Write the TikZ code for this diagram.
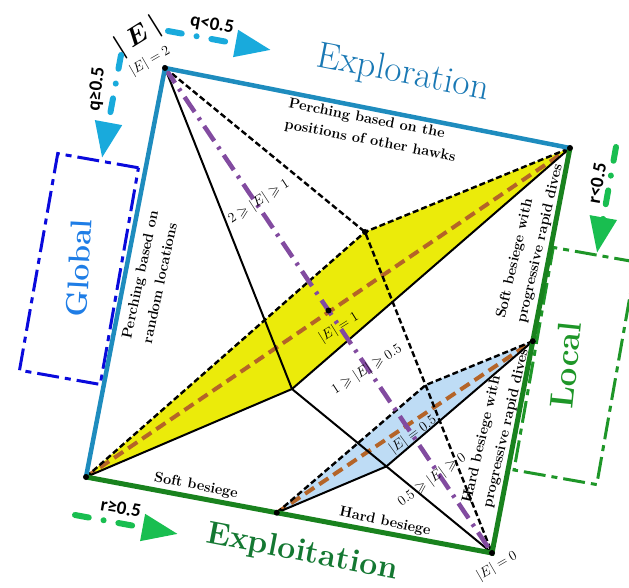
\RequirePackage{fix-cm}
\documentclass[tikz,border=0pt]{standalone}
\usepackage{amsmath}
\usepackage{amssymb}
\usepackage{fontspec}
\newfontfamily\paramfont{Carlito}
\usepackage{tikz}
\usetikzlibrary{arrows.meta, calc}
\definecolor{explblue}{RGB}{30,140,190}
\definecolor{explortext}{RGB}{25,120,180}
\definecolor{globaltext}{RGB}{30,125,230}
\definecolor{boxblue}{RGB}{10,10,220}
\definecolor{exploitgreen}{RGB}{25,130,30}
\definecolor{exploittext}{RGB}{20,120,50}
\definecolor{boxgreen}{RGB}{30,150,40}
\definecolor{arrowcyan}{RGB}{25,170,220}
\definecolor{arrowgreen}{RGB}{25,190,80}
\definecolor{fillyellow}{RGB}{235,235,10}
\definecolor{fillblue}{RGB}{190,220,245}
\definecolor{diagbrown}{RGB}{180,100,40}
\definecolor{axispurple}{RGB}{130,75,160}
\tikzset{
  exploredge/.style={line width=4.5pt, draw=explblue},
  exploitedge/.style={line width=5pt, draw=exploitgreen},
  hiddenline/.style={line width=2.4pt, dash pattern=on 6pt off 3pt},
  frontline/.style={line width=2pt},
  diagline/.style={line width=4pt, draw=diagbrown, dash pattern=on 11pt off 6pt},
  energyaxis/.style={line width=4.5pt, draw=axispurple,
    dash pattern=on 18pt off 7pt on 3pt off 7pt},
  modebox/.style={rectangle, line width=3pt, rotate=-10,
    dash pattern=on 22pt off 6pt on 6pt off 6pt},
  switcharrow/.style={line width=6pt, line cap=round,
    dash pattern=on 14pt off 15pt on 0.1pt off 15pt,
    -{Triangle[length=36pt, width=26pt]}},
  vertex/.style={circle, fill=black, inner sep=0pt, minimum size=6pt},
  phaselabel/.style={font=\bfseries\fontsize{14.5}{21}\selectfont, align=left, inner sep=1pt},
  levellabel/.style={font=\fontsize{14}{16}\selectfont, inner sep=1pt},
  paramlabel/.style={font=\paramfont\bfseries\fontsize{19}{20}\selectfont, inner sep=1pt}
}
\begin{document}
\begin{tikzpicture}[x=1pt, y=-1pt]
  \useasboundingbox (0,0) rectangle (629,588);
  \clip (0,0) rectangle (629,588);

  % corners of the square and the inner points
  \coordinate (T) at (165,68);
  \coordinate (R) at (570,148);
  \coordinate (L) at (86,477);
  \coordinate (B) at (492,553);
  \coordinate (C) at ($(T)!0.5!(B)$);
  \coordinate (M1) at (365,232);
  \coordinate (M2) at ($(C)!-1!(M1)$);
  \coordinate (P) at ($(L)!0.47!(B)$);
  \coordinate (Q) at ($(R)!0.477!(B)$);
  \coordinate (N1) at ($(M1)!0.477!(B)$);
  \coordinate (N2) at ($(M2)!0.472!(B)$);

  % global / local boxes
  \node[modebox, draw=boxblue, minimum width=82pt, minimum height=220pt] (globalbox) at (79,269) {};
  \node[modebox, draw=boxgreen, minimum width=84pt, minimum height=226pt] (localbox) at (575,366) {};
  \node[font=\bfseries\fontsize{30}{32}\selectfont, text=globaltext, rotate=87] (globaltag) at (79,268) {Global};
  \node[font=\bfseries\fontsize{33}{36}\selectfont, text=boxgreen, rotate=84] (localtag) at (566,365) {Local};

  % planes
  \fill[fillyellow] (L) -- (M1) -- (R) -- (M2) -- cycle;
  \fill[fillblue] (P) -- (N1) -- (Q) -- (N2) -- cycle;
  \draw[diagline] (L) -- (R);
  \draw[diagline] (P) -- (Q);
  \draw[hiddenline] (L) -- (M1) -- (R);
  \draw[hiddenline] (P) -- (N1) -- (Q);
  \draw[hiddenline] (T) -- (M1) -- (B);
  \draw[frontline] (L) -- (M2) -- (R);
  \draw[frontline] (P) -- (N2) -- (Q);
  \draw[frontline] (T) -- (M2) -- (B);
  \draw[energyaxis] (T) -- (B);
  \draw[exploredge] (L) -- (T) -- (R);
  \draw[exploitedge] (L) -- (B) -- (R);
  \foreach \pt in {T,R,L,B,M1,Q,C,P}
    \node[vertex] (dot\pt) at (\pt) {};

  % phase titles
  \node[font=\fontsize{37}{40}\selectfont, text=explortext, rotate=-11] (exploration) at (403,74) {Exploration};
  \node[font=\bfseries\fontsize{32}{36}\selectfont, text=exploittext, rotate=-11] (exploitation) at (302,553) {Exploitation};
  \node[font=\boldmath\fontsize{26}{28}\selectfont, rotate=32] (energy) at (138,37) {$|\,E\,|$};

  % switching arrows
  \coordinate (qlowA) at (168,31);
  \coordinate (qlowB) at (271,50);
  \coordinate (qhighA) at (121,55);
  \coordinate (qhighB) at (102,158);
  \coordinate (rhighA) at (75,515);
  \coordinate (rhighB) at (178,534);
  \coordinate (rlowA) at (616,147);
  \coordinate (rlowB) at (597,253);
  \draw[switcharrow, color=arrowcyan] (qlowA) -- (qlowB);
  \draw[switcharrow, color=arrowcyan] (qhighA) -- (qhighB);
  \draw[switcharrow, color=arrowgreen] (rhighA) -- (rhighB);
  \draw[switcharrow, color=arrowgreen] (rlowA) -- (rlowB);
  \node[paramlabel, rotate=-10] (qlow) at (212,25) {q<0.5};
  \node[paramlabel, rotate=84] (qhigh) at (97,89) {q≥0.5};
  \node[paramlabel, rotate=-10] (rhigh) at (121,508) {r≥0.5};
  \node[paramlabel, rotate=80] (rlow) at (597,183) {r<0.5};

  % strategy labels
  \node[phaselabel, rotate=-11] (perchother) at (372,131) {Perching based on the\\positions of other hawks};
  \node[phaselabel, rotate=78] (perchrandom) at (150,277) {Perching based on\\random locations};
  \node[phaselabel, rotate=77] (softdives) at (530,241) {Soft besiege with\\progressive rapid dives};
  \node[phaselabel, rotate=77] (harddives) at (496,426) {Hard besiege with\\progressive rapid dives};
  \node[phaselabel, rotate=-11] (softbesiege) at (196,486) {Soft besiege};
  \node[phaselabel, rotate=-12] (hardbesiege) at (385,522) {Hard besiege};

  % energy levels
  \node[levellabel, rotate=30] (etwo) at (150,61) {$|E|=2$};
  \node[levellabel, rotate=30] (ezero) at (497,566) {$|E|=0$};
  \node[levellabel, rotate=33] (rangeone) at (259,202) {$2\geqslant|E|\geqslant1$};
  \node[levellabel, rotate=32] (eone) at (339,328) {$|E|=1$};
  \node[levellabel, rotate=33] (rangehalf) at (367,370) {$1\geqslant|E|\geqslant0.5$};
  \node[levellabel, rotate=36] (ehalf) at (413,435) {$|E|=0.5$};
  \node[levellabel, rotate=36] (rangezero) at (432,480) {$0.5\geqslant|E|\geqslant0$};
\end{tikzpicture}
\end{document}
